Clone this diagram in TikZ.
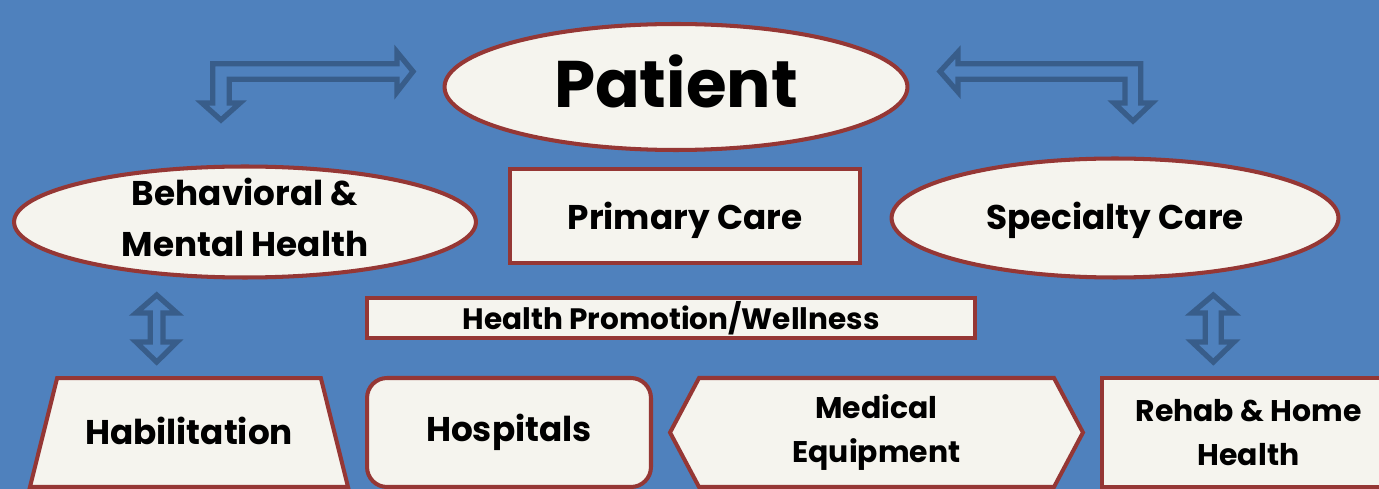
\documentclass[tikz,border=0pt]{standalone}
\usepackage{fontspec}
\setmainfont{Poppins}
\usetikzlibrary{shapes.geometric,shapes.symbols}
\definecolor{bgblue}{HTML}{4F81BD}
\definecolor{boxred}{HTML}{953735}
\definecolor{boxfill}{HTML}{F5F4EE}
\definecolor{arrowblue}{HTML}{385D8A}
\begin{document}
\begin{tikzpicture}[
    x=0.02cm, y=-0.02cm,
    box/.style={rectangle, draw=boxred, fill=boxfill, line width=2.3pt, inner sep=0pt, align=center, font=\bfseries\fontsize{19.5}{29}\selectfont},
    oval/.style={box, ellipse, inner ysep=-8pt},
    blockarrow/.style={draw=arrowblue, line width=3pt, fill=bgblue, line join=miter}
]
% Background
\fill[bgblue] (0,0) rectangle (1379,489);
\useasboundingbox (0,0) rectangle (1379,489);

% Top row
\node[oval, minimum width=9.26cm, minimum height=2.52cm, font=\bfseries\fontsize{37.5}{44}\selectfont, text height=27pt, text depth=4pt] (patient) at (676,87) {Patient};
\node[oval, minimum width=9.24cm, minimum height=2.22cm, inner ysep=-10pt, text depth=5.6pt] (behav) at (245,222) {Behavioral \&\\Mental Health};
\node[box, minimum width=7cm, minimum height=1.88cm, text height=19pt, text depth=4pt] (primary) at (685,216) {Primary Care};
\node[oval, minimum width=8.94cm, minimum height=2.38cm, text height=17.5pt, text depth=4.7pt] (special) at (1115,218) {Specialty Care};
\node[box, minimum width=12.16cm, minimum height=0.8cm, font=\bfseries\fontsize{16.8}{20}\selectfont] (wellness) at (671,318) {Health Promotion/Wellness};

% Bottom row
\node[box, trapezium, trapezium angle=76, trapezium stretches body=true, text height=14pt, text depth=0pt, inner ysep=23.9pt, minimum width=6.36cm] (habil) at (189,432.5) {Habilitation};
\node[box, rounded corners=0.4cm, minimum width=5.68cm, minimum height=2.18cm] (hosp) at (509,432.5) {Hospitals};
\node[box, signal, signal to=west and east, signal from=nowhere, signal pointer angle=124, minimum width=8.26cm, minimum height=2.18cm, font=\bfseries\fontsize{17}{25.5}\selectfont] (equip) at (876.5,432.5) {Medical\\Equipment};
\node[box, minimum width=5.86cm, minimum height=2.18cm, font=\bfseries\fontsize{17}{25.5}\selectfont] (rehab) at (1248.5,432.5) {Rehab \& Home\\Health};

% Bent arrows to the patient
\draw[blockarrow] (212.7,103) -- (202,103) -- (221,120) -- (240,103) -- (229.3,103) -- (229.3,79.3)
    -- (397,79.3) -- (397,92) -- (413,71.5) -- (397,52) -- (397,63.7) -- (212.7,63.7) -- cycle;
\draw[blockarrow] (1140.7,63.7) -- (958,63.7) -- (958,52) -- (940,71.5) -- (958,92) -- (958,79.3)
    -- (1125,79.3) -- (1125,103) -- (1114,103) -- (1133,121) -- (1152,103) -- (1140.7,103) -- cycle;

% Up-down arrows
\draw[blockarrow] (156.7,295) -- (177,313) -- (163,313) -- (163,342) -- (177,342) -- (156.7,362)
    -- (136,342) -- (150.3,342) -- (150.3,313) -- (136,313) -- cycle;
\draw[blockarrow] (1213.3,295) -- (1234,313) -- (1221.3,313) -- (1221.3,342) -- (1234,342) -- (1213.3,362)
    -- (1192,342) -- (1205.3,342) -- (1205.3,313) -- (1192,313) -- cycle;
\end{tikzpicture}
\end{document}
